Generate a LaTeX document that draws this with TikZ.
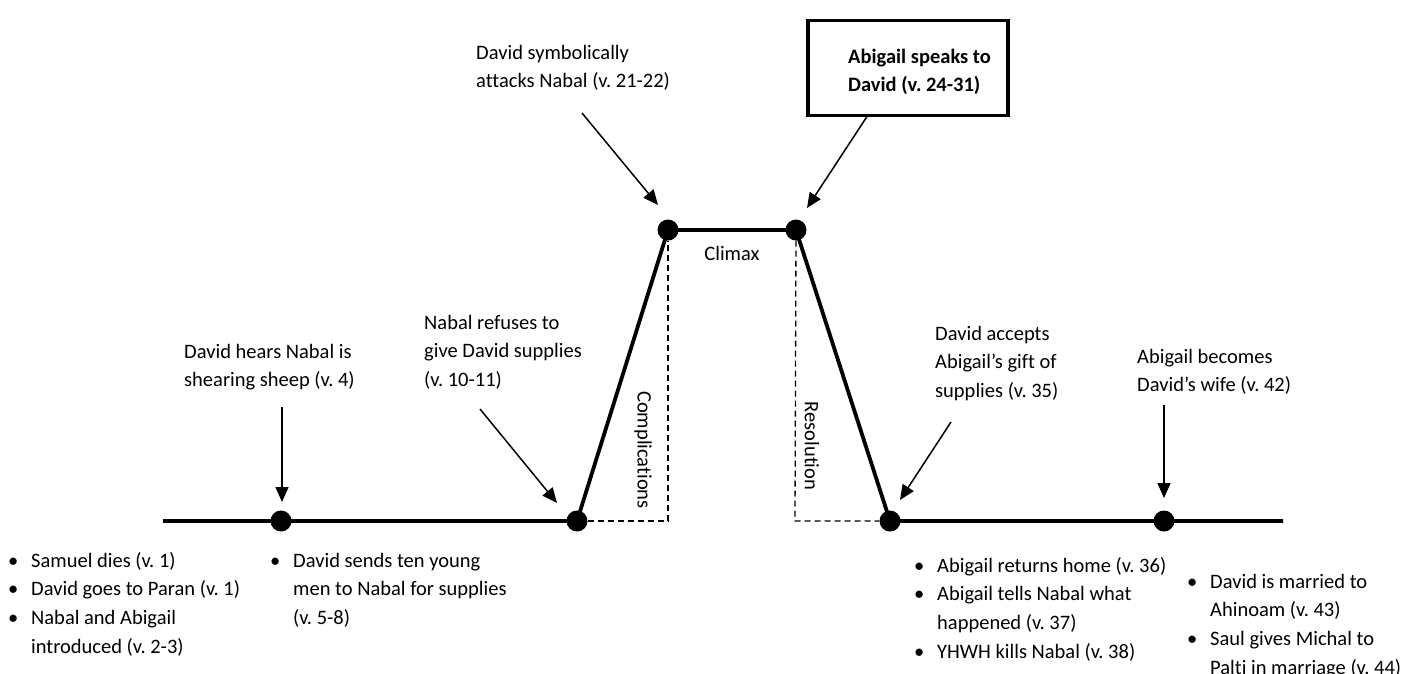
\documentclass[tikz,border=0pt]{standalone}
\usepackage{fontspec}
\setmainfont{Carlito}[Ligatures=CommonOff]
\usetikzlibrary{arrows.meta}
\newcommand\mlines[1]{\begin{tabular}[t]{@{}l@{}}#1\end{tabular}}
\newcommand\bl{\makebox[23pt][l]{\textbullet}}
\newcommand\bsp{\makebox[23pt][l]{}}
\renewcommand\arraystretch{1}
\frenchspacing
\begin{document}
\begin{tikzpicture}[x=1pt,y=-1pt,
  txt/.style={font=\fontsize{20.5}{28.8}\selectfont, inner sep=0pt, anchor=base west},
  dot/.style={circle, fill=black, minimum size=21pt, inner sep=0pt},
  plotline/.style={line width=3.8pt},
  guide/.style={line width=1.3pt, dash pattern=on 6pt off 4pt},
  pointer/.style={line width=1.5pt, -{Triangle[length=15pt,width=13pt]}},
  framebox/.style={draw, line width=3.5pt, anchor=north west, inner sep=0pt}
]
\useasboundingbox (0,0) rectangle (1417,673);
\fill[white] (0,0) rectangle (1417,673);

% plot
\coordinate (L) at (163,521);
\coordinate (R) at (1283,521);
\coordinate (cb) at (668,521);
\coordinate (rb) at (795,521);
\node[dot] (d1) at (281,521) {};
\node[dot] (d2) at (577,521) {};
\node[dot] (d3) at (668,230) {};
\node[dot] (d4) at (796,230) {};
\node[dot] (d5) at (890,521) {};
\node[dot] (d6) at (1164,521) {};
\draw[plotline] (L) -- (d1.center) -- (d2.center) -- (d3.center) -- (d4.center) -- (d5.center) -- (d6.center) -- (R);
\draw[guide] (d2) -- (cb) -- (d3);
\draw[guide] (d4) -- (rb) -- (d5);

\node[txt, anchor=base] (climax) at (732,260) {Climax};
\node[txt, rotate=-90, anchor=center] (comp) at (643,450) {Complications};
\node[txt, rotate=-90, anchor=center] (reso) at (812,446) {Resolution};

% event labels
\node[txt] (hears) at (184,358) {\mlines{David hears Nabal is\\shearing sheep (v. 4)}};
\node[txt] (refuses) at (424,329) {\mlines{Nabal refuses to\\give David supplies\\(v. 10-11)}};
\node[txt] (attacks) at (476,59) {\mlines{David symbolically\\attacks Nabal (v. 21-22)}};
\node[framebox, minimum width=200pt, minimum height=95pt] (box) at (806,18.5) {};
\node[txt, font=\fontsize{20.5}{28.8}\selectfont\bfseries] (speaks) at (848,63) {\mlines{Abigail speaks to\\David (v. 24-31)}};
\node[txt] (accepts) at (935,340) {\mlines{David accepts\\Abigail’s gift of\\supplies (v. 35)}};
\node[txt] (becomes) at (1137,363) {\mlines{Abigail becomes\\David’s wife (v. 42)}};

% lists
\node[txt] (list1) at (8,567) {\mlines{\bl Samuel dies (v. 1)\\ \bl David goes to Paran (v. 1)\\ \bl Nabal and Abigail\\ \bsp introduced (v. 2-3)}};
\node[txt] (list2) at (270,567) {\mlines{\bl David sends ten young\\ \bsp men to Nabal for supplies\\ \bsp (v. 5-8)}};
\node[txt] (list3) at (914,572) {\mlines{\bl Abigail returns home (v. 36)\\ \bl Abigail tells Nabal what\\ \bsp happened (v. 37)\\ \bl YHWH kills Nabal (v. 38)}};
\node[txt] (list4) at (1187,588) {\mlines{\bl David is married to\\ \bsp Ahinoam (v. 43)\\ \bl Saul gives Michal to\\ \bsp Palti in marriage (v. 44)}};

% arrows
\coordinate (t1) at (282,407); \coordinate (h1) at (282,502);
\coordinate (t2) at (480,409); \coordinate (h2) at (557,503);
\coordinate (t3) at (582,113); \coordinate (h3) at (658,205);
\coordinate (t4) at (868,115); \coordinate (h4) at (807,208);
\coordinate (t5) at (951,422); \coordinate (h5) at (900,500);
\coordinate (t6) at (1164,405); \coordinate (h6) at (1164,498);
\draw[pointer] (t1) -- (h1);
\draw[pointer] (t2) -- (h2);
\draw[pointer] (t3) -- (h3);
\draw[pointer] (t4) -- (h4);
\draw[pointer] (t5) -- (h5);
\draw[pointer] (t6) -- (h6);
\end{tikzpicture}
\end{document}
